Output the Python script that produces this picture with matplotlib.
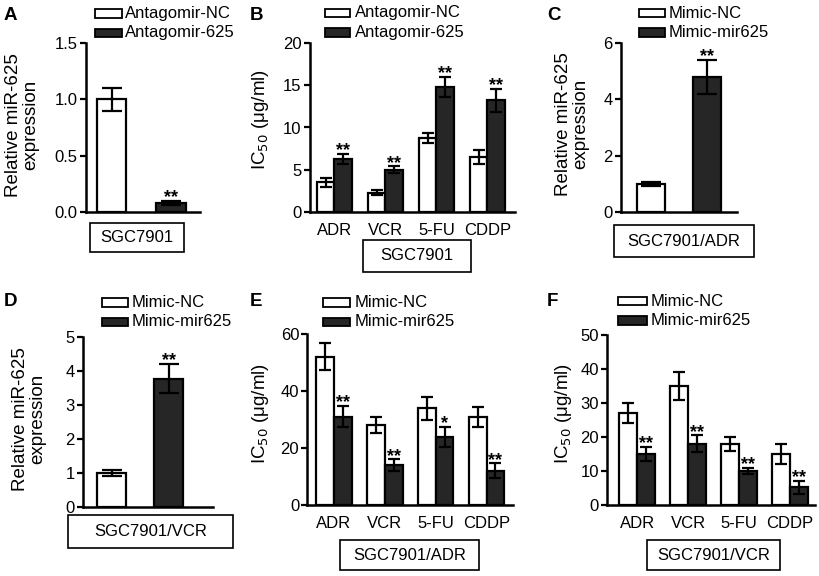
import matplotlib
matplotlib.use("Agg")
import matplotlib.pyplot as plt
from matplotlib.patches import Rectangle
import numpy as np

plt.rcParams['font.family'] = ['Liberation Sans', 'DejaVu Sans']

# ---------------- data ----------------
drugs = ['ADR', 'VCR', '5-FU', 'CDDP']

A_labels = ['Antagomir-NC', 'Antagomir-625']
A_vals = [1.0, 0.08]
A_err = [0.1, 0.02]
A_stars = ['', '**']

B_labels = ['Antagomir-NC', 'Antagomir-625']
B_nc = [3.5, 2.3, 8.8, 6.5]
B_nc_err = [0.5, 0.3, 0.6, 0.8]
B_625 = [6.3, 5.0, 14.8, 13.2]
B_625_err = [0.6, 0.4, 1.2, 1.4]
B_stars = ['**', '**', '**', '**']

C_labels = ['Mimic-NC', 'Mimic-mir625']
C_vals = [1.0, 4.8]
C_err = [0.06, 0.6]
C_stars = ['', '**']

D_labels = ['Mimic-NC', 'Mimic-mir625']
D_vals = [1.0, 3.77]
D_err = [0.1, 0.43]
D_stars = ['', '**']

E_labels = ['Mimic-NC', 'Mimic-mir625']
E_nc = [52, 28, 34, 31]
E_nc_err = [4.7, 2.8, 4.0, 3.5]
E_mir = [31, 14, 24, 12]
E_mir_err = [3.8, 2.0, 3.5, 2.6]
E_stars = ['**', '**', '*', '**']

F_labels = ['Mimic-NC', 'Mimic-mir625']
F_nc = [27, 35, 18, 15]
F_nc_err = [3.0, 4.0, 2.0, 3.0]
F_mir = [15, 18, 10, 5.2]
F_mir_err = [2.0, 2.5, 1.0, 1.9]
F_stars = ['**', '**', '**', '**']

# ---------------- styling ----------------
W, H = 820, 576
DARK = '#262626'
TICK_FS = 12
LAB_FS = 13.5
fig = plt.figure(figsize=(W / 100, H / 100), dpi=100)


def ax_px(x0, x1, ytop, ybot):
    return fig.add_axes([x0 / W, 1 - ybot / H, (x1 - x0) / W, (ybot - ytop) / H])


def style(ax, ylim, yticks, yfmt, cats=None):
    for s in ['top', 'right']:
        ax.spines[s].set_visible(False)
    for s in ['left', 'bottom']:
        ax.spines[s].set_linewidth(1.8)
    ax.set_ylim(*ylim)
    ax.set_yticks(yticks)
    ax.set_yticklabels([yfmt.format(v) for v in yticks], fontsize=TICK_FS)
    ax.tick_params(axis='y', length=4, width=1.6, pad=2, direction='out')
    ax.spines['left'].set_bounds(ylim[0], ylim[1])
    if cats is None:
        ax.set_xticks([])
    else:
        ax.set_xticks(np.arange(len(cats)))
        ax.set_xticklabels(cats, fontsize=TICK_FS)
        ax.tick_params(axis='x', length=0, pad=8)


def stars(ax, xs, tops, marks, fs=13):
    for x, t, m in zip(xs, tops, marks):
        if m:
            ax.annotate(m, (x, t), xytext=(0, -1), textcoords='offset points',
                        ha='center', va='baseline', fontsize=fs, fontweight='bold')


def two_bar(ax, vals, errs, marks, cap):
    xs = np.arange(2)
    ax.bar(xs, vals, width=0.5, color=['white', DARK], edgecolor='black', linewidth=1.6, zorder=2)
    ax.errorbar(xs, vals, yerr=errs, fmt='none', ecolor='black', elinewidth=1.6,
                capsize=cap, capthick=1.6, zorder=3)
    stars(ax, xs, np.array(vals) + np.array(errs), marks)


def grouped(ax, nc, nce, tr, tre, marks, width, cap):
    xs = np.arange(len(nc))
    ax.bar(xs - width / 2, nc, width=width, color='white', edgecolor='black', linewidth=1.6, zorder=2)
    ax.bar(xs + width / 2, tr, width=width, color=DARK, edgecolor='black', linewidth=1.6, zorder=2)
    ax.errorbar(xs - width / 2, nc, yerr=nce, fmt='none', ecolor='black', elinewidth=1.6,
                capsize=cap, capthick=1.6, zorder=3)
    ax.errorbar(xs + width / 2, tr, yerr=tre, fmt='none', ecolor='black', elinewidth=1.6,
                capsize=cap, capthick=1.6, zorder=3)
    stars(ax, xs + width / 2, np.array(tr) + np.array(tre), marks)


def legend(x, y, w, labels, tx):
    for i, (lab, col) in enumerate(zip(labels, ['white', DARK])):
        yy = y + i * 19.5
        fig.patches.append(Rectangle((x / W, 1 - (yy + 8.5) / H), w / W, 8.5 / H,
                                     transform=fig.transFigure, facecolor=col,
                                     edgecolor='black', linewidth=1.3))
        fig.text(tx / W, 1 - (yy + 4.5) / H, lab, fontsize=TICK_FS, ha='left', va='center')


def boxlabel(x0, x1, y0, y1, text):
    fig.patches.append(Rectangle((x0 / W, 1 - y1 / H), (x1 - x0) / W, (y1 - y0) / H,
                                 transform=fig.transFigure, facecolor='white',
                                 edgecolor='black', linewidth=1.2))
    fig.text((x0 + x1) / 2 / W, 1 - (y0 + y1) / 2 / H, text, fontsize=TICK_FS,
             ha='center', va='center')


def ylabel(x, y, text):
    fig.text(x / W, 1 - y / H, text, fontsize=LAB_FS, rotation=90, ha='center',
             va='center', multialignment='center', linespacing=1.0)


def letter(x, y, t):
    fig.text(x / W, 1 - y / H, t, fontsize=13.5, fontweight='bold', ha='left', va='center')


REL = 'Relative miR-625\nexpression'
IC = 'IC$_{50}$ (\u03bcg/ml)'

# ---------------- Panel A ----------------
ax = ax_px(86, 200, 43, 212)
two_bar(ax, A_vals, A_err, A_stars, 7)
ax.set_xlim(-0.43, 1.49)
style(ax, (0, 1.5), [0, 0.5, 1.0, 1.5], '{:.1f}')
legend(95, 9, 27, A_labels, 125)
boxlabel(90, 184, 223, 252, 'SGC7901')
ylabel(22, 125, REL)
letter(4, 16, 'A')

# ---------------- Panel B ----------------
ax = ax_px(310, 515, 43, 212)
grouped(ax, B_nc, B_nc_err, B_625, B_625_err, B_stars, 0.35, 4.5)
ax.set_xlim(-0.48, 3.54)
style(ax, (0, 20), [0, 5, 10, 15, 20], '{:d}', drugs)
legend(325, 8.5, 25, B_labels, 355)
boxlabel(363, 471, 240, 272, 'SGC7901')
ylabel(261, 120, IC)
letter(250, 16, 'B')

# ---------------- Panel C ----------------
ax = ax_px(621, 737, 43, 212)
two_bar(ax, C_vals, C_err, C_stars, 7)
ax.set_xlim(-0.545, 1.53)
style(ax, (0, 6), [0, 2, 4, 6], '{:d}')
legend(639, 8.5, 26, C_labels, 669)
boxlabel(614, 754, 225, 257, 'SGC7901/ADR')
ylabel(572, 124, REL)
letter(547, 16, 'C')

# ---------------- Panel D ----------------
ax = ax_px(83, 213, 337, 507)
two_bar(ax, D_vals, D_err, D_stars, 7)
ax.set_xlim(-0.5, 1.78)
style(ax, (0, 5), [0, 1, 2, 3, 4, 5], '{:d}')
legend(102, 298, 26, D_labels, 132)
boxlabel(68, 233, 515, 548, 'SGC7901/VCR')
ylabel(29, 419, REL)
letter(4, 302, 'D')

# ---------------- Panel E ----------------
ax = ax_px(307.5, 513, 334, 505)
grouped(ax, E_nc, E_nc_err, E_mir, E_mir_err, E_stars, 0.35, 4.5)
ax.set_xlim(-0.52, 3.52)
style(ax, (0, 60), [0, 20, 40, 60], '{:d}', drugs)
legend(323, 298, 27, E_labels, 355)
boxlabel(340, 479, 540, 570, 'SGC7901/ADR')
ylabel(261, 414, IC)
letter(250, 302, 'E')

# ---------------- Panel F ----------------
ax = ax_px(607.3, 815, 335, 505)
grouped(ax, F_nc, F_nc_err, F_mir, F_mir_err, F_stars, 0.355, 4.5)
ax.set_xlim(-0.59, 3.5)
style(ax, (0, 50), [0, 10, 20, 30, 40, 50], '{:d}', drugs)
legend(618, 296.5, 29, F_labels, 651)
boxlabel(647, 780, 540, 570, 'SGC7901/VCR')
ylabel(564, 414, IC)
letter(547, 302, 'F')

fig.savefig('out.png', dpi=100, facecolor='white')
